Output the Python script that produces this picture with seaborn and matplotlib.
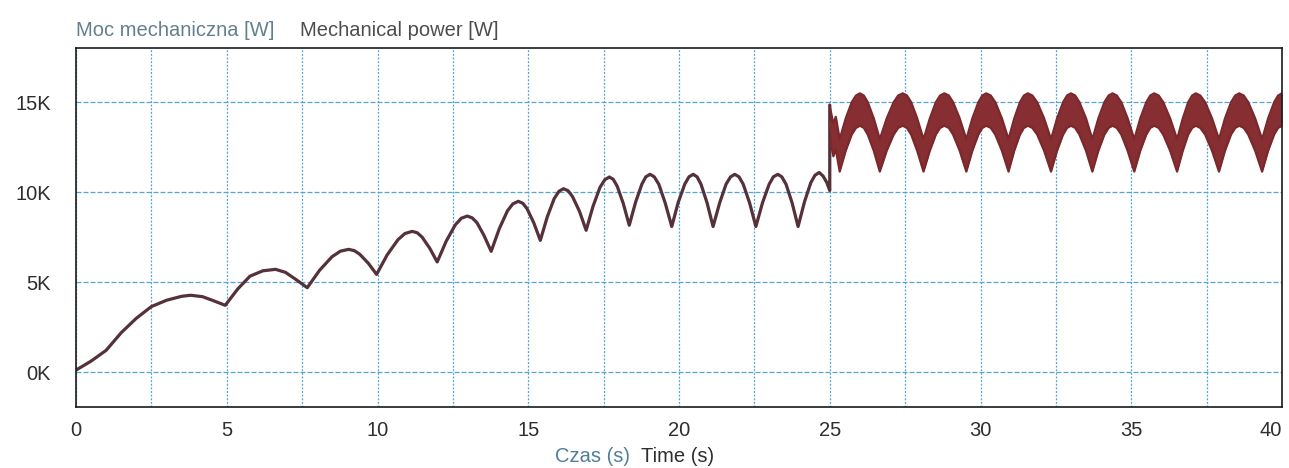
import numpy as np
import pandas as pd
import matplotlib
matplotlib.use("Agg")
import matplotlib.pyplot as plt
from matplotlib.ticker import FuncFormatter, MultipleLocator
import seaborn as sns

# ---- data (time in s, power in W) ----
time_before = [0, 0.5, 1.0, 1.5, 2.0, 2.5, 3.0, 3.5, 3.8, 4.2, 4.6, 4.95,
               5.36, 5.77, 6.2, 6.62, 6.95, 7.3, 7.67,
               8.08, 8.49, 8.77, 9.04, 9.23, 9.41, 9.69, 9.97,
               10.32, 10.68, 10.91, 11.15, 11.32, 11.48, 11.73, 11.98,
               12.28, 12.58, 12.78, 12.98, 13.14, 13.30, 13.53, 13.77,
               14.04, 14.31, 14.49, 14.67, 14.82, 14.96, 15.18, 15.40,
               15.63, 15.86, 16.02, 16.17, 16.32, 16.47, 16.70, 16.92,
               17.15, 17.38, 17.54, 17.69, 17.82, 17.95, 18.15, 18.35,
               18.56, 18.77, 18.90, 19.04, 19.18, 19.33, 19.54, 19.76,
               19.97, 20.19, 20.33, 20.47, 20.60, 20.73, 20.93, 21.13,
               21.35, 21.56, 21.71, 21.85, 21.99, 22.13, 22.34, 22.55,
               22.77, 22.99, 23.13, 23.28, 23.41, 23.55, 23.75, 23.95,
               24.16, 24.37, 24.51, 24.65, 24.78, 24.90, 25.0, 25.0]
power_before = [120, 620, 1220, 2200, 3000, 3650, 4000, 4220, 4280, 4200, 3950, 3720,
                4620, 5340, 5640, 5720, 5550, 5150, 4700,
                5670, 6420, 6730, 6830, 6760, 6560, 6070, 5440,
                6520, 7370, 7710, 7830, 7750, 7510, 6900, 6130,
                7290, 8190, 8560, 8680, 8580, 8310, 7610, 6720,
                7980, 8970, 9360, 9500, 9390, 9090, 8320, 7330,
                8630, 9650, 10060, 10200, 10090, 9760, 8940, 7890,
                9230, 10280, 10700, 10850, 10720, 10340, 9390, 8170,
                9450, 10460, 10860, 11000, 10860, 10450, 9420, 8100,
                9420, 10450, 10860, 11000, 10860, 10450, 9420, 8100,
                9420, 10450, 10860, 11000, 10860, 10450, 9420, 8100,
                9420, 10450, 10860, 11000, 10860, 10450, 9420, 8100,
                9460, 10530, 10950, 11100, 10900, 10550, 10100, 14850]

# after 25 s: mean of the rippling signal
time_after = [25.0, 25.12, 25.2, 25.33,
              25.53, 25.73, 25.87, 26.0, 26.13, 26.26, 26.46, 26.66,
              26.89, 27.12, 27.27, 27.42, 27.56, 27.70, 27.90, 28.11,
              28.32, 28.52, 28.66, 28.8, 28.95, 29.09, 29.31, 29.53,
              29.73, 29.93, 30.06, 30.19, 30.34, 30.49, 30.71, 30.93,
              31.12, 31.31, 31.44, 31.57, 31.72, 31.88, 32.11, 32.34,
              32.54, 32.74, 32.87, 33.0, 33.14, 33.28, 33.50, 33.71,
              33.91, 34.11, 34.25, 34.38, 34.52, 34.67, 34.88, 35.1,
              35.30, 35.50, 35.63, 35.76, 35.91, 36.06, 36.29, 36.52,
              36.71, 36.89, 37.02, 37.14, 37.29, 37.45, 37.68, 37.91,
              38.11, 38.31, 38.45, 38.58, 38.73, 38.88, 39.11, 39.34,
              39.54, 39.74, 39.87, 40.0]
power_after = [13900, 12900, 13300, 12050,
               13210, 14110, 14480, 14600, 14480, 14110, 13210, 12050,
               13210, 14110, 14480, 14600, 14480, 14110, 13210, 12050,
               13210, 14110, 14480, 14600, 14480, 14110, 13210, 12050,
               13210, 14110, 14480, 14600, 14480, 14110, 13210, 12050,
               13210, 14110, 14480, 14600, 14480, 14110, 13210, 12050,
               13210, 14110, 14480, 14600, 14480, 14110, 13210, 12050,
               13210, 14110, 14480, 14600, 14480, 14110, 13210, 12050,
               13210, 14110, 14480, 14600, 14480, 14110, 13210, 12050,
               13210, 14110, 14480, 14600, 14480, 14110, 13210, 12050,
               13210, 14110, 14480, 14600, 14480, 14110, 13210, 12050,
               13210, 14110, 14480, 14600]
# half amplitude of the fast ripple riding on the signal after 25 s (W)
ripple_half = 900

x_ticks = [0, 5, 10, 15, 20, 25, 30, 35, 40]
y_ticks = [0, 5000, 10000, 15000]

# ---- styling ----
sns.set_style("white")
plt.rcParams["font.family"] = ["Liberation Sans", "DejaVu Sans"]

fig = plt.figure(figsize=(12.89, 4.68), dpi=100)
ax = fig.add_axes([76 / 1289, 1 - 407 / 468, (1282 - 76) / 1289, (407 - 48) / 468])

df1 = pd.DataFrame({"t": time_before, "p": power_before})
df2 = pd.DataFrame({"t": time_after, "p": power_after})
df2["lo"] = df2["p"] - ripple_half
df2["hi"] = df2["p"] + ripple_half

grid_c = "#55a6cf"
ax.set_xlim(0, 40)
ax.set_ylim(-1930, 18020)
ax.set_xticks(x_ticks)
ax.xaxis.set_minor_locator(MultipleLocator(2.5))
ax.set_yticks(y_ticks)
ax.grid(True, which="both", axis="x", color=grid_c, linewidth=0.9,
        linestyle=(0, (1.6, 1.3)))
ax.grid(True, which="major", axis="y", color=grid_c, linewidth=0.9,
        linestyle=(0, (4, 1.6)))
ax.set_axisbelow(True)

band_c = "#862e31"
sns.lineplot(data=df1, x="t", y="p", ax=ax, color="#553139", linewidth=2.3,
             estimator=None, sort=False)
ax.fill_between(df2["t"], df2["lo"], df2["hi"], color=band_c, linewidth=0)
sns.lineplot(data=df2, x="t", y="hi", ax=ax, color="#7a282b", linewidth=1.6,
             estimator=None, sort=False)
sns.lineplot(data=df2, x="t", y="lo", ax=ax, color="#7a282b", linewidth=1.6,
             estimator=None, sort=False)
sns.lineplot(data=df2, x="t", y="p", ax=ax, color=band_c, linewidth=2.0,
             estimator=None, sort=False)

ax.yaxis.set_major_formatter(FuncFormatter(lambda v, _: f"{v/1000:.0f}K"))
ax.tick_params(axis="both", which="both", length=0, labelsize=14.5,
               labelcolor="#2e2e2e")
ax.tick_params(axis="x", pad=10)
ax.tick_params(axis="y", pad=18)
for lbl in ax.get_xticklabels():
    if lbl.get_text() == "40":
        lbl.set_horizontalalignment("right")
ax.set_xlabel("")
ax.set_ylabel("")

for s in ax.spines.values():
    s.set_visible(True)
    s.set_color("#1a1a1a")
    s.set_linewidth(1.2)

fig.text(76 / 1289, 1 - 36 / 468, "Moc mechaniczna [W]", color="#62808f",
         fontsize=14.5, ha="left", va="baseline")
fig.text(300 / 1289, 1 - 36 / 468, "Mechanical power [W]", color="#4d4d4d",
         fontsize=14.5, ha="left", va="baseline")
fig.text(555 / 1289, 1 - 461.5 / 468, "Czas (s)", color="#4f7f96",
         fontsize=14.5, ha="left", va="baseline")
fig.text(641 / 1289, 1 - 461.5 / 468, "Time (s)", color="#2e2e2e",
         fontsize=14.5, ha="left", va="baseline")

fig.savefig("out.png", dpi=100, facecolor="white")
